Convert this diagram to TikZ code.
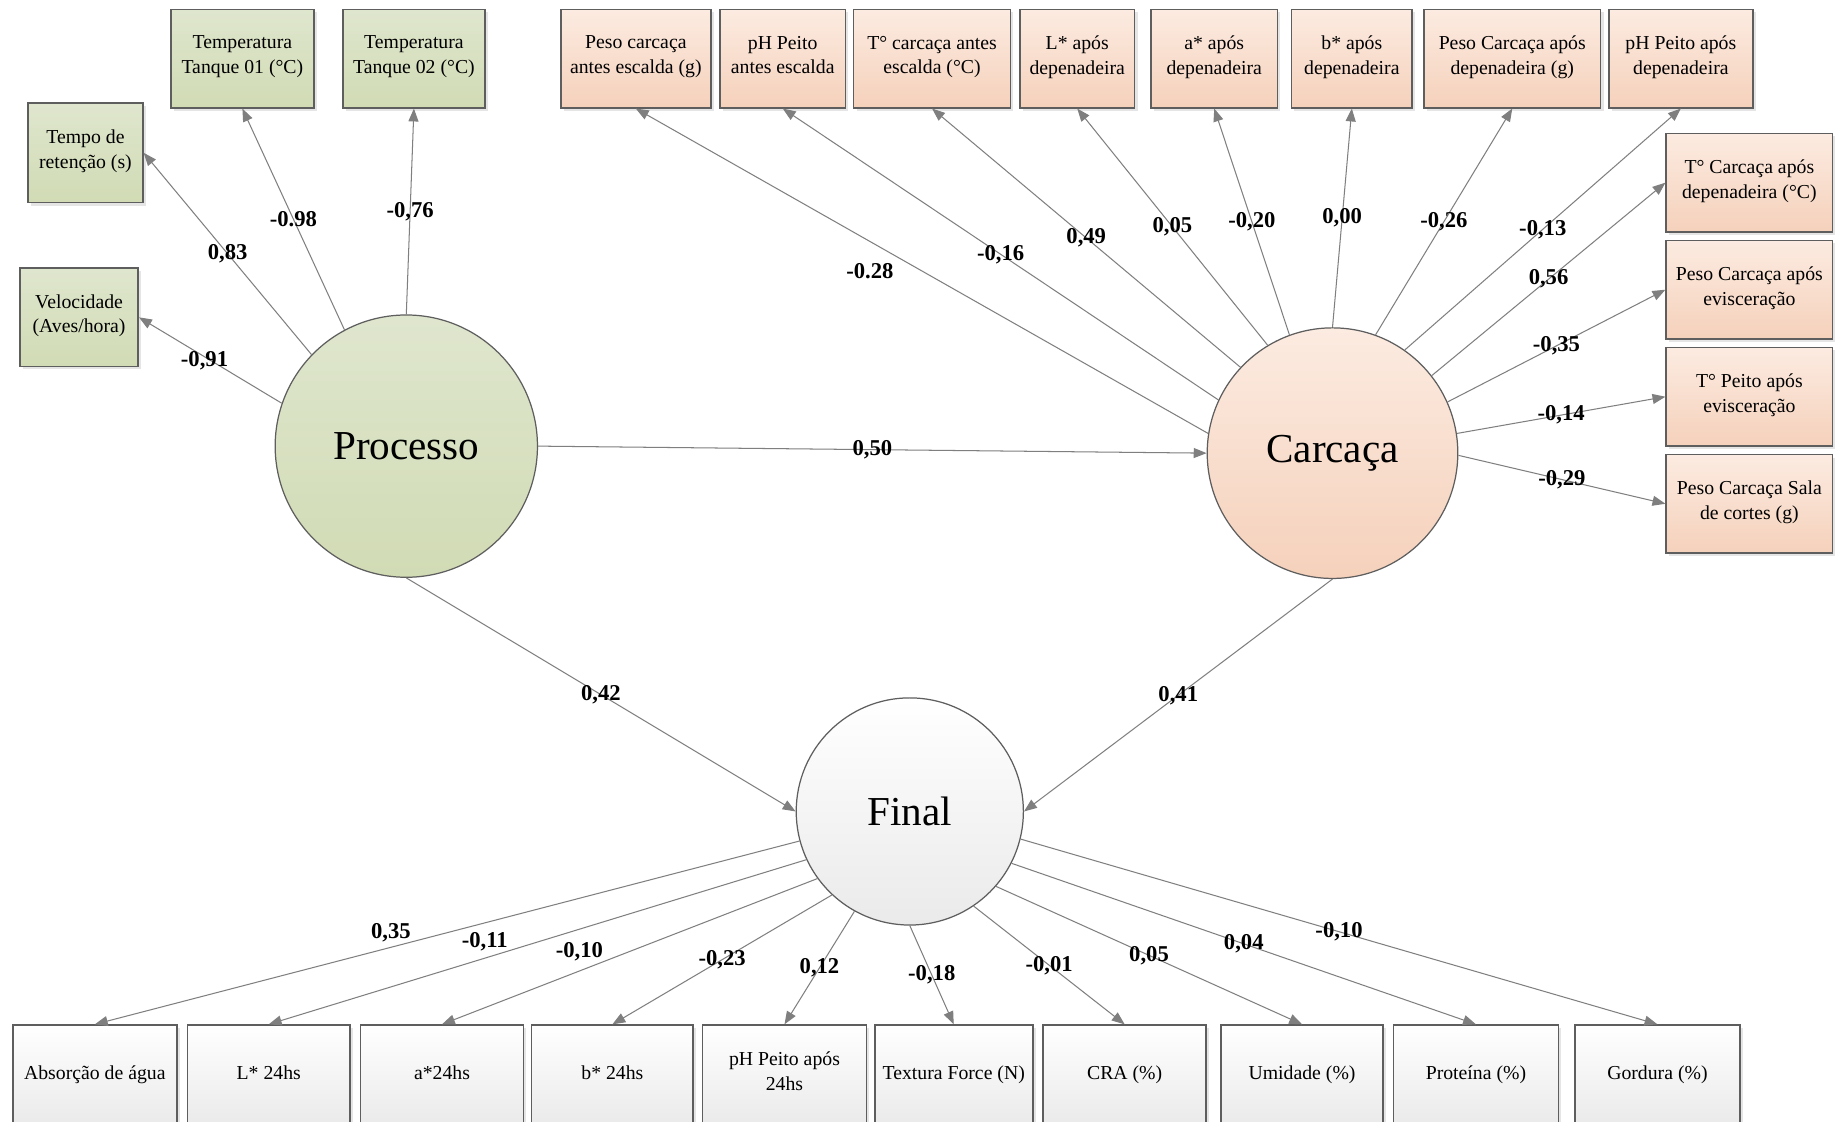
\documentclass[tikz,border=0pt]{standalone}
\usepackage{fontspec}
\setmainfont{Liberation Serif}
\usetikzlibrary{positioning,arrows.meta,shadows}

\definecolor{lnkgray}{HTML}{7F7F7F}
\definecolor{boxline}{HTML}{5E5E5E}
\definecolor{grntop}{HTML}{DFE6CE}
\definecolor{grnbot}{HTML}{D1DBB4}
\definecolor{orgtop}{HTML}{FCEBE1}
\definecolor{orgbot}{HTML}{F5D1BB}
\definecolor{grybot}{HTML}{EAEAEA}

\tikzset{
  indbox/.style={draw=boxline, line width=0.8pt, inner sep=1pt, align=center,
    minimum height=16.8mm, font=\fontsize{9.6}{12}\selectfont,
    execute at begin node=\strut, execute at end node=\strut,
    drop shadow={shadow xshift=0.5mm, shadow yshift=-0.5mm, opacity=0.2}},
  gbox/.style={indbox, top color=grntop, bottom color=grnbot},
  obox/.style={indbox, top color=orgtop, bottom color=orgbot},
  wbox/.style={indbox, top color=white, bottom color=grybot, minimum height=17mm},
  latent/.style={circle, draw=boxline, line width=0.6pt, font=\fontsize{20}{24}\selectfont},
  loading/.style={draw=lnkgray, line width=0.5pt, -{Triangle[length=2.2mm,width=1.7mm]}},
  coef/.style={font=\bfseries\fontsize{11}{13}\selectfont, inner sep=0pt},
}

\begin{document}
\begin{tikzpicture}[x=0.2mm,y=-0.2mm]
\useasboundingbox (0,0) rectangle (1568,958);
\clip (0,0) rectangle (1568,958);
\fill[white] (0,0) rectangle (1568,958);

% latent variables
\node[latent, minimum size=44.8mm, top color=grntop, bottom color=grnbot] (proc) at (347,381) {Processo};
\node[latent, minimum size=42.8mm, top color=orgtop, bottom color=orgbot] (car) at (1138,387) {Carcaça};
\node[latent, minimum size=38.8mm, top color=white, bottom color=grybot] (fin) at (777,693) {Final};

% processo
\node[gbox, minimum width=24.4mm] (tq1) at (207,50) {Temperatura\\Tanque 01 (°C)};
\node[gbox, minimum width=24.2mm] (tq2) at (353.5,50) {Temperatura\\Tanque 02 (°C)};
\node[gbox, minimum width=19.6mm, minimum height=17mm] (tret) at (73,130.5) {Tempo de\\retenção (s)};
\node[gbox, minimum width=20.2mm] (vel) at (67.5,271) {Velocidade\\(Aves/hora)};

% carcaca
\node[obox, minimum width=25.6mm] (pc0) at (543,50) {Peso carcaça\\antes escalda (g)};
\node[obox, minimum width=21.4mm] (ph0) at (668.5,50) {pH Peito\\antes escalda};
\node[obox, minimum width=26.8mm] (tc0) at (796,50) {T° carcaça antes\\escalda (°C)};
\node[obox, minimum width=19.6mm] (ld) at (920,50) {L* após\\depenadeira};
\node[obox, minimum width=21.6mm] (ad) at (1037,50) {a* após\\depenadeira};
\node[obox, minimum width=20.6mm] (bd) at (1154.5,50) {b* após\\depenadeira};
\node[obox, minimum width=30.2mm] (pcd) at (1291.5,50) {Peso Carcaça após\\depenadeira (g)};
\node[obox, minimum width=24.6mm] (phd) at (1435.5,50) {pH Peito após\\depenadeira};
\node[obox, minimum width=28.4mm] (tcd) at (1494,156) {T° Carcaça após\\depenadeira (°C)};
\node[obox, minimum width=28.4mm, below=1.2mm of tcd] (pce) {Peso Carcaça após\\evisceração};
\node[obox, minimum width=28.4mm, below=1.2mm of pce] (tpe) {T° Peito após\\evisceração};
\node[obox, minimum width=28.4mm, below=1.2mm of tpe] (pcs) {Peso Carcaça Sala\\de cortes (g)};

% final
\foreach \i/\x/\w/\txt in {1/81/28/{Absorção de água}, 2/229.5/27.8/{L* 24hs},
    3/377.5/27.8/{a*24hs}, 4/523/27.6/{b* 24hs}, 5/670/28/{pH Peito após\\24hs},
    6/814.5/27/{Textura Force (N)}, 7/960.5/27.8/{CRA (\%)}, 8/1112/27.6/{Umidade (\%)},
    9/1260.5/28.2/{Proteína (\%)}, 10/1415.5/28.2/{Gordura (\%)}}
  \node[wbox, minimum width=\w mm] (f\i) at (\x,918) {\txt};

% structural paths
\draw[loading] (proc.east) -- node[coef] {0,50} (car.west);
\draw[loading] (proc.south) -- node[coef] {0,42} (fin.west);
\draw[loading] (car.south) -- node[coef] {0,41} (fin.east);

% loadings
\draw[loading] (proc.161) -- node[coef, xshift=-1mm] {-0,91} (vel.east);
\draw[loading] (proc.136) -- node[coef] {0,83} (tret.east);
\draw[loading] (proc.118) -- node[coef] {-0.98} (tq1.south);
\draw[loading] (proc.90) -- node[coef] {-0,76} (tq2.south);

\draw[loading] (car.171) -- node[coef, xshift=-8.9mm] {-0.28} (pc0.south);
\draw[loading] (car.155) -- node[coef] {-0,16} (ph0.south);
\draw[loading] (car.137) -- node[coef] {0,49} (tc0.south);
\draw[loading] (car.121) -- node[coef] {0,05} (ld.south);
\draw[loading] (car.110) -- node[coef] {-0,20} (ad.south);
\draw[loading] (car.90) -- node[coef] {0,00} (bd.south);
\draw[loading] (car.70) -- node[coef] {-0,26} (pcd.south);
\draw[loading] (car.55) -- node[coef] {-0,13} (phd.south);
\draw[loading] (car.38) -- node[coef] {0,56} (tcd.west);
\draw[loading] (car.24) -- node[coef] {-0,35} (pce.west);
\draw[loading] (car.9) -- node[coef] {-0,14} (tpe.west);
\draw[loading] (car.-1) -- node[coef] {-0,29} (pcs.west);

\foreach \i/\a/\c/\s in {1/195/{0,35}/-9.6mm, 2/205/{-0,11}/-9mm, 3/216/{-0,10}/-8.6mm,
    4/227/{-0,23}/0mm, 5/241/{0,12}/0mm, 6/270/{-0,18}/0mm, 7/304/{-0,01}/0mm,
    8/319/{0,05}/0mm, 9/333/{0,04}/0mm, 10/346/{-0,10}/0mm}
  \draw[loading] (fin.\a) -- node[coef, xshift=\s] {\c} (f\i.north);
\end{tikzpicture}
\end{document}
